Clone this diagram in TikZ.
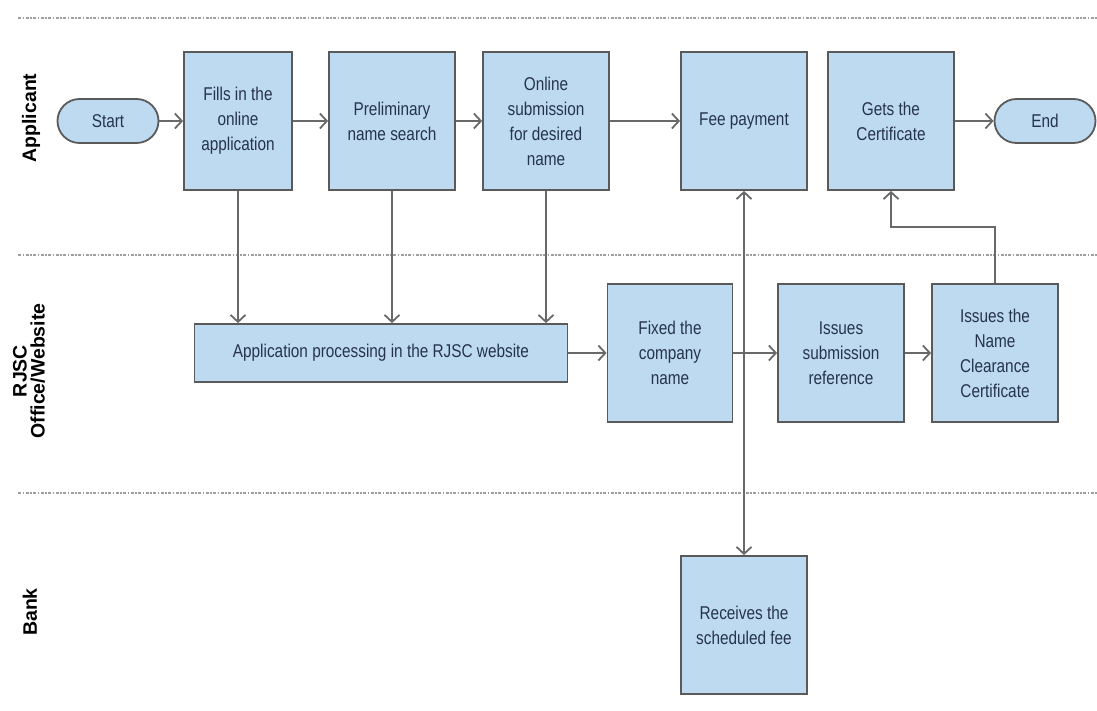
\documentclass[tikz,border=0pt]{standalone}
\usepackage{fontspec}
\setmainfont[FakeStretch=0.83]{Liberation Sans}
\newfontfamily\lanefont{Liberation Sans}
\usetikzlibrary{arrows.meta}
\definecolor{boxblue}{RGB}{190,218,240}
\definecolor{boxline}{RGB}{90,90,90}
\definecolor{flowgray}{RGB}{105,105,105}
\definecolor{textnavy}{RGB}{38,52,75}

\begin{document}
\begin{tikzpicture}[x=1pt,y=-1pt]
    \tikzstyle{every node}=[font={\fontsize{18.5}{25}\selectfont}, text=textnavy, align=center]
    \tikzstyle{task}=[draw=boxline, fill=boxblue, line width=1.8pt, minimum width=126pt, minimum height=138pt, inner sep=2pt]
    \tikzstyle{term}=[task, rounded corners=22pt, minimum width=101pt, minimum height=44pt]
    \tikzstyle{flow}=[draw=flowgray, line width=1.8pt, ->]
    \tikzstyle{lane}=[draw=gray!75, line width=1.5pt, dash pattern=on 3pt off 1.5pt on 1.5pt off 1.5pt]
    \tikzstyle{lanename}=[rotate=90, font={\lanefont\bfseries\fontsize{19.5}{18}\selectfont}, text=black]
    \tikzset{>={Straight Barb[length=7pt,width=15pt]}}
    \useasboundingbox (0,0) rectangle (1097,711);

    % swimlanes
    \draw[lane] (18,18) -- (1097,18);
    \draw[lane] (18,255) -- (1097,255);
    \draw[lane] (18,493) -- (1097,493);
    \node[lanename] (applicant) at (31,118) {Applicant};
    \node[lanename] (rjsc) at (29,371) {RJSC\\Office/Website};
    \node[lanename] (bank) at (30,612) {Bank};

    % applicant
    \node[term] (start) at (108,121) {Start};
    \node[task, minimum width=108pt] (fills) at (238,121) {Fills in the\\online\\application};
    \node[task] (prelim) at (392,121) {Preliminary\\name search};
    \node[task] (online) at (546,121) {Online\\submission\\for desired\\name};
    \node[task] (fee) at (744,121) {Fee payment};
    \node[task] (gets) at (891,121) {Gets the\\Certificate};
    \node[term] (end) at (1045,121) {End};

    % rjsc office
    \node[task, minimum width=373pt, minimum height=58pt] (app) at (381,353) {Application processing in the RJSC website};
    \node[task, minimum width=125pt] (fixed) at (670,353) {Fixed the\\company\\name};
    \node[task] (subref) at (841,353) {Issues\\submission\\reference};
    \node[task] (clear) at (995,353) {Issues the\\Name\\Clearance\\Certificate};

    % bank
    \node[task] (receives) at (744,625) {Receives the\\scheduled fee};

    % connectors
    \draw[flow] (start) -- (fills);
    \draw[flow] (fills) -- (prelim);
    \draw[flow] (prelim) -- (online);
    \draw[flow] (online) -- (fee);
    \draw[flow] (gets) -- (end);
    \draw[flow] (fills.south) -- (fills.south |- app.north);
    \draw[flow] (prelim.south) -- (prelim.south |- app.north);
    \draw[flow] (online.south) -- (online.south |- app.north);
    \draw[flow] (app) -- (fixed);
    \draw[flow, <->] (fee.south) -- (receives.north);
    \draw[flow] (fixed) -- (subref);
    \draw[flow] (subref) -- (clear);
    \draw[flow] (clear.north) -- ++(0,-56) -| (gets.south);
\end{tikzpicture}
\end{document}
